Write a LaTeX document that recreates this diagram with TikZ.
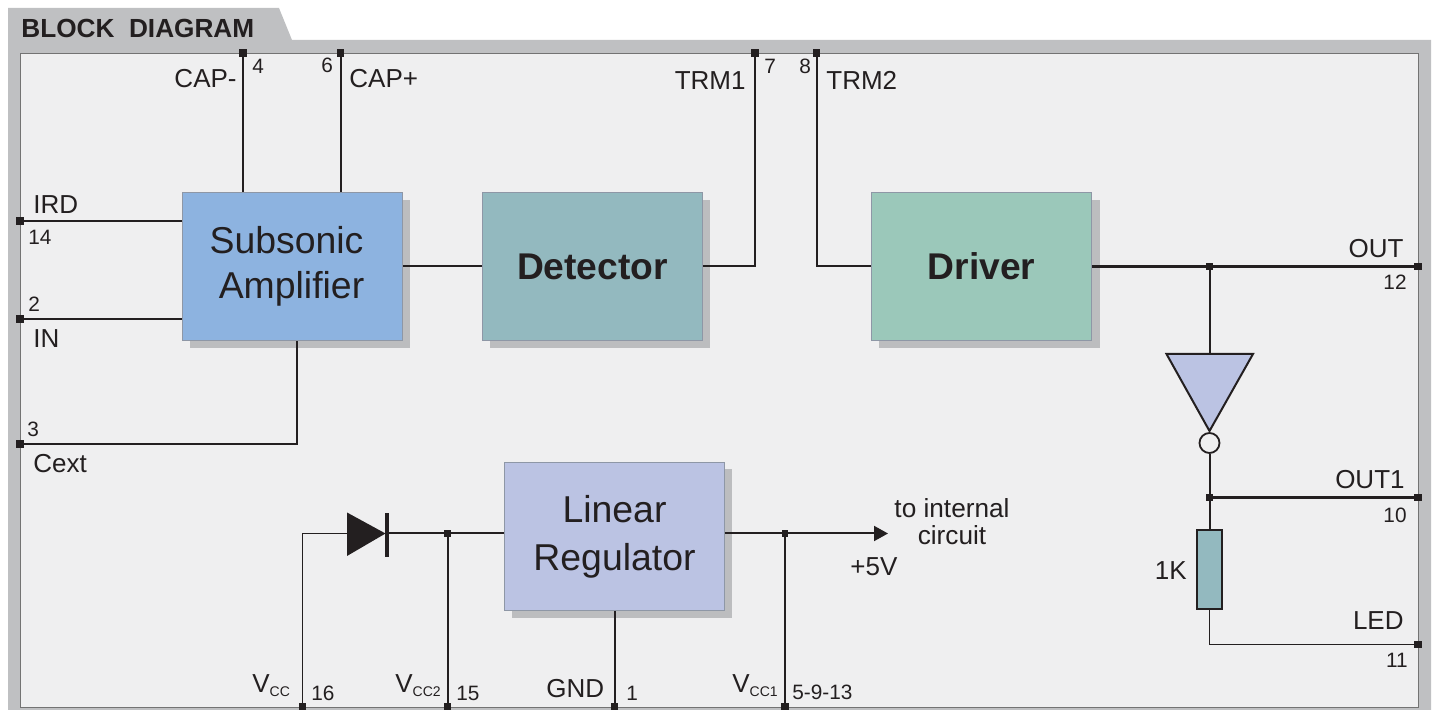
\documentclass[tikz,border=0pt]{standalone}
\usepackage{fontspec}
\setmainfont{Liberation Sans}
\usetikzlibrary{calc,arrows.meta}
\definecolor{ink}{HTML}{231F20}
\definecolor{frameg}{HTML}{BFC0C2}
\definecolor{panel}{HTML}{EFEFF0}
\definecolor{shadowg}{HTML}{BCBDBF}
\definecolor{subc}{HTML}{8DB3E0}
\definecolor{detc}{HTML}{93B9BF}
\definecolor{drvc}{HTML}{9BC8BA}
\definecolor{linc}{HTML}{BBC3E3}
\definecolor{edge}{HTML}{8E97A6}
\tikzset{
  x=0.5pt,y=-0.5pt,
  block/.style={draw=edge,line width=0.4pt,minimum width=110pt,minimum height=74pt,inner sep=0pt,align=center,text=ink,
     font=\fontsize{18.7}{22.5}\selectfont},
  shade box/.style={fill=shadowg,draw=none},
  wire/.style={draw=ink,line width=1pt},
  thin wire/.style={draw=ink,line width=0.9pt},
  bus/.style={draw=ink,line width=1.5pt},
  pin/.style={fill=ink,draw=none,minimum size=3.8pt,inner sep=0pt,rectangle},
  jun/.style={fill=ink,draw=none,minimum size=3.2pt,inner sep=0pt,rectangle},
  lab/.style={inner sep=0pt,anchor=base west,text=ink,font=\fontsize{13}{15}\selectfont},
  labr/.style={lab,anchor=base east},
  num/.style={inner sep=0pt,anchor=base west,text=ink,font=\fontsize{10.4}{12}\selectfont},
  numr/.style={num,anchor=base east},
}
\newcommand{\vsub}[1]{V{\fontsize{7}{8}\selectfont\raisebox{-2pt}{#1}}}
\begin{document}
\begin{tikzpicture}
\useasboundingbox (0,0) rectangle (1437,710);
% frame
\fill[frameg] (8,8) -- (279,8) -- (292,40) -- (1431,40) -- (1431,710) -- (8,710) -- cycle;
\filldraw[fill=panel,draw=gray!90!black,line width=0.4pt] (20,53) rectangle (1418,707);
\node[inner sep=0pt,anchor=base west,text=ink,font=\fontsize{13.1}{15}\selectfont\bfseries] (title) at (21,38) {BLOCK\ \ DIAGRAM};
% shadows
\fill[shade box] (190,200) rectangle (410,348.5);
\fill[shade box] (490,200) rectangle (710,348.5);
\fill[shade box] (879,200) rectangle (1099.5,348.5);
\fill[shade box] (512,469) rectangle (732,618);
% blocks
\node[block,fill=subc,text width=110pt,align=center] (sub) at (292.5,266.5) {\hspace*{-6pt}Subsonic\\[0pt]\hspace*{-1pt}Amplifier};
\node[block,fill=detc,font=\fontsize{18.6}{23}\selectfont\bfseries] (det) at (592.5,266.5) {Detector};
\node[block,fill=drvc,font=\fontsize{18.6}{23}\selectfont\bfseries] (drv) at (981.5,266.5) {Driver};
\node[block,fill=linc,font=\fontsize{18.7}{24}\selectfont] (lin) at (614.5,536.5) {Linear\\Regulator};
% pins
\foreach \n/\x/\y in {p4/243/53,p6/340.5/53,p7/755/53,p8/816.5/53,p14/20/221,p2/20/319,p3/20/444,p12/1418/266.5,p10/1418/497.5,p11/1418/644.5,p16/302.5/707,p15/447.5/707,p1/614.5/707,p5/785/707}
  \node[pin] (\n) at (\x,\y) {};
% junctions and free points
\node[jun] (jout) at (1209.5,266.5) {};
\node[jun] (jout1) at (1209.5,497.5) {};
\node[jun] (jv2) at (447.5,533.5) {};
\node[jun] (jv1) at (785,533.5) {};
\coordinate (corner3) at (297,444);
\coordinate (corner16) at (302.5,533.5);
\coordinate (corner7) at (755,266.5);
\coordinate (corner8) at (816.5,266.5);
\coordinate (corner11) at (1209.5,644.5);
\coordinate (diodeL) at (347,533.5);
\coordinate (diodeR) at (385,533.5);
\coordinate (invtop) at (1209.5,354);
\coordinate (arrowend) at (888,533.5);
% top wires
\draw[wire] (p4.center) -- (p4.center |- sub.north);
\draw[wire] (p6.center) -- (p6.center |- sub.north);
\draw[wire] (p14.center) -- (p14.center -| sub.west);
\draw[wire] (p2.center) -- (p2.center -| sub.west);
\draw[wire] (p3.center) -- (corner3) -- (corner3 |- sub.south);
\draw[wire] (sub.east) -- (det.west);
\draw[wire] (det.east) -- (corner7) -- (p7.center);
\draw[wire] (p8.center) -- (corner8) -- (drv.west);
\draw[bus] (drv.east) -- (jout.center) -- (p12.center);
\draw[wire] (jout.center) -- (invtop);
% inverter
\fill[linc] (1166.5,354) -- (1253,354) -- (1209.5,431) -- cycle;
\draw[wire,line join=miter] (1166.5,354) -- (1253,354) -- (1209.5,431) -- cycle;
\node[circle,draw=ink,line width=0.9pt,fill=panel,minimum size=10pt,inner sep=0pt] (bub) at (1209.5,443) {};
\draw[wire] (bub.south) -- (jout1.center);
\draw[bus,line width=1.2pt] (jout1.center) -- (p10.center);
\node[rectangle,draw=ink,line width=1pt,fill=detc,minimum width=12.5pt,minimum height=39.5pt,inner sep=0pt] (res) at (1209.5,570) {};
\draw[wire] (jout1.center) -- (res.north);
\draw[thin wire] (res.south) -- (corner11) -- (p11.center);
% regulator wires
\draw[thin wire] (p16.center) -- (corner16) -- (diodeL);
\fill[ink] (347,512.5) -- (385.5,533.5) -- (347,556) -- cycle;
\fill[ink] (384.5,513) rectangle (388.5,557);
\draw[wire] (diodeR) -- (jv2.center) -- (jv2.center -| lin.west);
\draw[wire] (jv2.center) -- (p15.center);
\draw[wire] (lin.south) -- (p1.center);
\draw[wire] (jv1.center) -- (p5.center);
\draw[wire,-{Triangle[length=7pt,width=7.5pt]}] (jv1.center -| lin.east) -- (arrowend);
% labels
\node[labr] (lcapm) at (237,88) {CAP-};
\node[num] (n4) at (252,74) {4};
\node[num] (n6) at (321,73) {6};
\node[lab] (lcapp) at (349,88) {CAP+};
\node[labr] (ltrm1) at (746,90) {TRM1};
\node[num] (n7) at (764,74) {7};
\node[num] (n8) at (799,74) {8};
\node[lab] (ltrm2) at (826,90) {TRM2};
\node[lab] (lird) at (33,213.5) {IRD};
\node[num] (n14) at (28,244.5) {14};
\node[num] (n2) at (28,311.5) {2};
\node[lab] (lin1) at (33,348) {IN};
\node[num] (n3) at (27,436.5) {3};
\node[lab] (lcext) at (33,473) {Cext};
\node[labr] (lout) at (1404,258) {OUT};
\node[numr] (n12) at (1407,290) {12};
\node[labr] (lout1) at (1405,489) {OUT1};
\node[numr] (n10) at (1407,523) {10};
\node[labr] (lled) at (1404,630) {LED};
\node[numr] (n11) at (1408,668) {11};
\node[labr] (l1k) at (1187,580) {1K};
\node[lab] (lvcc) at (252,693) {\vsub{CC}};
\node[num] (n16) at (311,701) {16};
\node[lab] (lvcc2) at (395,693) {\vsub{CC2}};
\node[num] (n15) at (456,701) {15};
\node[lab] (lgnd) at (546,698) {GND};
\node[num] (n1) at (626,701) {1};
\node[lab] (lvcc1) at (732,693) {\vsub{CC1}};
\node[num] (n5) at (792,700) {5-9-13};
\node[text=ink,inner sep=0pt,align=center,font=\fontsize{13.1}{13.6}\selectfont] (ltoint) at (952,522) {to internal\\circuit};
\node[lab] (l5v) at (850,576) {+5V};
\end{tikzpicture}
\end{document}
